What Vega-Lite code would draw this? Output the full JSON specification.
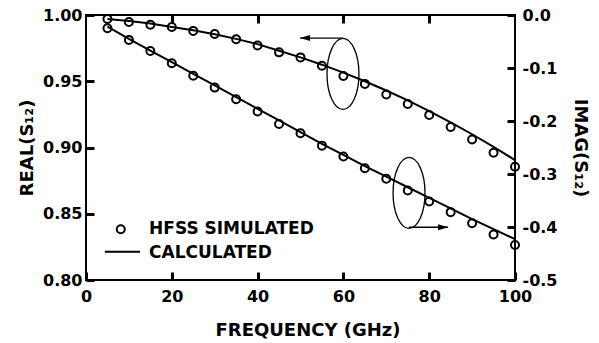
{
  "$schema": "https://vega.github.io/schema/vega-lite/v6.json",
  "width": 429,
  "height": 265,
  "autosize": {"type": "none"},
  "padding": {"left": 86, "top": 15, "right": 84, "bottom": 63},
  "config": {
    "font": "DejaVu Sans",
    "view": {"stroke": "black", "strokeWidth": 2},
    "axis": {
      "grid": false,
      "domain": false,
      "labelFlush": false,
      "labelOverlap": false,
      "labelColor": "black",
      "labelFont": "DejaVu Sans",
      "labelFontWeight": "bold",
      "labelFontSize": 16,
      "titleColor": "black",
      "titleFont": "DejaVu Sans",
      "titleFontWeight": "bold",
      "titleFontSize": 18
    }
  },
  "datasets": {
    "sim": [
      {"f": 5, "re": 0.997, "im": -0.025},
      {"f": 10, "re": 0.9947, "im": -0.047},
      {"f": 15, "re": 0.9927, "im": -0.068},
      {"f": 20, "re": 0.991, "im": -0.091},
      {"f": 25, "re": 0.988, "im": -0.1145},
      {"f": 30, "re": 0.9857, "im": -0.137},
      {"f": 35, "re": 0.9817, "im": -0.159},
      {"f": 40, "re": 0.977, "im": -0.182},
      {"f": 45, "re": 0.9718, "im": -0.2057},
      {"f": 50, "re": 0.968, "im": -0.223},
      {"f": 55, "re": 0.9617, "im": -0.2465},
      {"f": 60, "re": 0.954, "im": -0.267},
      {"f": 65, "re": 0.948, "im": -0.289},
      {"f": 70, "re": 0.94, "im": -0.309},
      {"f": 75, "re": 0.9328, "im": -0.331},
      {"f": 80, "re": 0.9245, "im": -0.352},
      {"f": 85, "re": 0.9155, "im": -0.372},
      {"f": 90, "re": 0.906, "im": -0.393},
      {"f": 95, "re": 0.896, "im": -0.414},
      {"f": 100, "re": 0.8855, "im": -0.434}
    ],
    "calc": [
      {"f": 5, "re": 0.997, "im": -0.022},
      {"f": 10, "re": 0.9955, "im": -0.045},
      {"f": 15, "re": 0.9935, "im": -0.067},
      {"f": 20, "re": 0.991, "im": -0.089},
      {"f": 25, "re": 0.9885, "im": -0.111},
      {"f": 30, "re": 0.9855, "im": -0.133},
      {"f": 35, "re": 0.982, "im": -0.155},
      {"f": 40, "re": 0.978, "im": -0.177},
      {"f": 45, "re": 0.973, "im": -0.199},
      {"f": 50, "re": 0.968, "im": -0.221},
      {"f": 55, "re": 0.9625, "im": -0.243},
      {"f": 60, "re": 0.9565, "im": -0.264},
      {"f": 65, "re": 0.95, "im": -0.285},
      {"f": 70, "re": 0.943, "im": -0.305},
      {"f": 75, "re": 0.9355, "im": -0.325},
      {"f": 80, "re": 0.9275, "im": -0.345},
      {"f": 85, "re": 0.919, "im": -0.365},
      {"f": 90, "re": 0.91, "im": -0.385},
      {"f": 95, "re": 0.9005, "im": -0.404},
      {"f": 100, "re": 0.8905, "im": -0.423}
    ],
    "ellRe": [{"f": 59.9, "re": 0.9555}],
    "arrRe": [{"f": 49.9, "f2": 59.9, "re": 0.9826}],
    "ellIm": [{"f": 75.3, "im": -0.3358}],
    "arrIm": [{"f": 84.4, "f2": 75.3, "im": -0.4005}],
    "legPt": [{"f": 8.1, "re": 0.8383}],
    "legLn": [{"f": 4.4, "f2": 12.6, "re": 0.8214}],
    "legTx": [
      {"f": 14.7, "re": 0.8382, "label": "HFSS SIMULATED"},
      {"f": 14.7, "re": 0.8205, "label": "CALCULATED"}
    ]
  },
  "resolve": {"scale": {"y": "independent"}, "axis": {"x": "independent", "y": "independent"}},
  "layer": [
    {
      "layer": [
        {
          "data": {"name": "calc"},
          "mark": {"type": "line", "color": "black", "strokeWidth": 2},
          "encoding": {
            "x": {"field": "f", "type": "quantitative", "scale": {"domain": [0, 100], "nice": false},
              "axis": {"orient": "bottom", "offset": 0, "zindex": 1, "ticks": true, "tickSize": -8, "tickWidth": 3, "tickColor": "black", "values": [0, 20, 40, 60, 80, 100], "labelPadding": 16, "title": "FREQUENCY (GHz)", "titleX": 221.5, "titleY": 55, "titleAlign": "center", "titleBaseline": "alphabetic"}},
            "y": {"field": "re", "type": "quantitative", "scale": {"domain": [0.8, 1.0], "nice": false},
              "axis": {"orient": "left", "offset": -8, "zindex": 1, "ticks": true, "tickSize": 8, "tickWidth": 3, "tickColor": "black", "values": [0.8, 0.85, 0.9, 0.95, 1.0], "format": ".2f", "labelPadding": 4, "title": "REAL(S₁₂)", "titleAngle": -90, "titleX": -62, "titleY": 132.5, "titleAlign": "center", "titleBaseline": "alphabetic"}}
          }
        },
        {
          "data": {"name": "sim"},
          "mark": {"type": "point", "shape": "circle", "filled": false, "color": "black", "strokeWidth": 2, "size": 64, "opacity": 1},
          "encoding": {
            "x": {"field": "f", "type": "quantitative"},
            "y": {"field": "re", "type": "quantitative"}
          }
        },
        {
          "data": {"name": "ellRe"},
          "mark": {"type": "point", "shape": "M0,-1C0.2486,-1,0.45,-0.5523,0.45,0C0.45,0.5523,0.2486,1,0,1C-0.2486,1,-0.45,0.5523,-0.45,0C-0.45,-0.5523,-0.2486,-1,0,-1Z", "filled": false, "color": "black", "strokeWidth": 1.3, "size": 5041, "opacity": 1},
          "encoding": {
            "x": {"field": "f", "type": "quantitative"},
            "y": {"field": "re", "type": "quantitative"}
          }
        },
        {
          "data": {"name": "arrRe"},
          "mark": {"type": "rule", "color": "black", "strokeWidth": 1.3},
          "encoding": {
            "x": {"field": "f", "type": "quantitative"},
            "x2": {"field": "f2"},
            "y": {"field": "re", "type": "quantitative"}
          }
        },
        {
          "data": {"name": "arrRe"},
          "mark": {"type": "point", "shape": "M0,0L2,-0.6L2,0.6Z", "filled": true, "color": "black", "size": 100, "opacity": 1, "strokeWidth": 0},
          "encoding": {
            "x": {"field": "f", "type": "quantitative"},
            "y": {"field": "re", "type": "quantitative"}
          }
        },
        {
          "data": {"name": "legPt"},
          "mark": {"type": "point", "shape": "circle", "filled": false, "color": "black", "strokeWidth": 2, "size": 64, "opacity": 1},
          "encoding": {
            "x": {"field": "f", "type": "quantitative"},
            "y": {"field": "re", "type": "quantitative"}
          }
        },
        {
          "data": {"name": "legLn"},
          "mark": {"type": "rule", "color": "black", "strokeWidth": 2},
          "encoding": {
            "x": {"field": "f", "type": "quantitative"},
            "x2": {"field": "f2"},
            "y": {"field": "re", "type": "quantitative"}
          }
        },
        {
          "data": {"name": "legTx"},
          "mark": {"type": "text", "align": "left", "baseline": "middle", "font": "DejaVu Sans", "fontWeight": "bold", "fontSize": 17, "color": "black"},
          "encoding": {
            "x": {"field": "f", "type": "quantitative"},
            "y": {"field": "re", "type": "quantitative"},
            "text": {"field": "label"}
          }
        }
      ]
    },
    {
      "layer": [
        {
          "data": {"name": "calc"},
          "mark": {"type": "line", "color": "black", "strokeWidth": 2},
          "encoding": {
            "x": {"field": "f", "type": "quantitative",
              "axis": {"orient": "top", "offset": 0, "ticks": true, "tickSize": -8, "tickWidth": 3, "tickColor": "black", "values": [20, 40, 60, 80], "labels": false, "title": null}},
            "y": {"field": "im", "type": "quantitative", "scale": {"domain": [-0.5, 0], "nice": false},
              "axis": {"orient": "right", "offset": -8, "ticks": true, "tickSize": 8, "tickWidth": 3, "tickColor": "black", "values": [-0.5, -0.4, -0.3, -0.2, -0.1, 0], "labelExpr": "datum.value == 0 ? '0.0' : '-' + format(-datum.value, '.1f')", "labelPadding": 7, "title": "IMAG(S₁₂)", "titleAngle": 90, "titleX": 67, "titleY": 132.5, "titleAlign": "center", "titleBaseline": "alphabetic"}}
          }
        },
        {
          "data": {"name": "sim"},
          "mark": {"type": "point", "shape": "circle", "filled": false, "color": "black", "strokeWidth": 2, "size": 64, "opacity": 1},
          "encoding": {
            "x": {"field": "f", "type": "quantitative"},
            "y": {"field": "im", "type": "quantitative"}
          }
        },
        {
          "data": {"name": "ellIm"},
          "mark": {"type": "point", "shape": "M0,-1C0.2486,-1,0.45,-0.5523,0.45,0C0.45,0.5523,0.2486,1,0,1C-0.2486,1,-0.45,0.5523,-0.45,0C-0.45,-0.5523,-0.2486,-1,0,-1Z", "filled": false, "color": "black", "strokeWidth": 1.3, "size": 5041, "opacity": 1},
          "encoding": {
            "x": {"field": "f", "type": "quantitative"},
            "y": {"field": "im", "type": "quantitative"}
          }
        },
        {
          "data": {"name": "arrIm"},
          "mark": {"type": "rule", "color": "black", "strokeWidth": 1.3},
          "encoding": {
            "x": {"field": "f", "type": "quantitative"},
            "x2": {"field": "f2"},
            "y": {"field": "im", "type": "quantitative"}
          }
        },
        {
          "data": {"name": "arrIm"},
          "mark": {"type": "point", "shape": "M0,0L-2,-0.6L-2,0.6Z", "filled": true, "color": "black", "size": 100, "opacity": 1, "strokeWidth": 0},
          "encoding": {
            "x": {"field": "f", "type": "quantitative"},
            "y": {"field": "im", "type": "quantitative"}
          }
        }
      ]
    }
  ]
}
